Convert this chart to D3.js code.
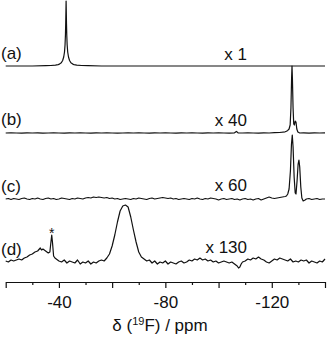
<!DOCTYPE html>
<html><head><meta charset="utf-8">
<script src="https://cdn.jsdelivr.net/npm/d3@7"></script>
<style>
html,body{margin:0;padding:0;background:#fff;}
svg{display:block;font-family:"Liberation Sans",Arial,sans-serif;}
</style></head>
<body>
<svg id="chart" width="327" height="339"></svg>
<script>
// ---- data (ppm, intensity above trace baseline) ----
const traceLabels = ["(a)", "(b)", "(c)", "(d)"];
const scaleLabels = ["x 1", "x 40", "x 60", "x 130"];
const offsets = [216, 149, 83, 20];
const xTicksMajor = [-20, -40, -60, -80, -100, -120, -140];
const xTicksMinor = [-30, -50, -70, -90, -110, -130];
const xTickLabels = [-40, -80, -120];

const traceA = [[-20,0],[-30,0],[-35,0.3],[-37,0.5],[-38.7,0.9],[-39.7,1.4],[-40.2,1.9],[-40.9,3.2],[-41.4,5.5],[-41.8,9],[-42.1,14],[-42.3,21],[-42.45,31],[-42.55,42],[-42.63,54],[-42.7,65],[-42.77,54],[-42.85,42],[-42.95,31],[-43.1,21],[-43.3,14],[-43.6,9],[-44,5.5],[-44.5,3.2],[-45.2,1.9],[-45.7,1.4],[-46.7,0.9],[-48.5,0.5],[-51,0.3],[-56,0],[-140,0]];

const traceB = [[-20,0],[-22,0.2],[-24,0],[-26,-0.2],[-28,0.2],[-30,0],[-32,0.2],[-34,-0.2],[-36,0],[-38,0.2],[-40,0],[-42,-0.2],[-44,0.2],[-46,0],[-48,0.2],[-50,0],[-52,-0.2],[-54,0.2],[-56,0],[-58,0.2],[-60,0],[-62,-0.2],[-64,0],[-66,0.2],[-68,0],[-70,0.2],[-72,0],[-74,-0.2],[-76,0.2],[-78,0],[-80,0.2],[-82,0],[-84,-0.2],[-86,0.2],[-88,0],[-90,0.2],[-92,0],[-94,-0.2],[-96,0.2],[-98,0],[-100,0.2],[-102,0],[-104,-0.2],[-106,0.2],[-106.7,1.6],[-107.3,0.2],[-109,0],[-111,0.2],[-113,0],[-115,-0.2],[-117,0.2],[-119,0],[-121,0.3],[-123,0.5],[-124,0.8],[-125,1.2],[-125.5,1.8],[-126,2.6],[-126.5,4],[-126.9,8],[-127.2,25],[-127.45,55],[-127.6,67],[-127.75,55],[-128,25],[-128.25,9],[-128.5,8],[-128.8,12],[-129.1,11],[-129.4,4],[-129.8,1],[-130.5,0],[-132,0.2],[-134,-0.2],[-136,0.2],[-138,0],[-140,0.2]];

const traceC = [[-20,0],[-21,0.5],[-22,-0.5],[-23,0.5],[-24,0],[-25,-0.5],[-26,0.5],[-27,1],[-28,0],[-29,-0.5],[-30,0.5],[-31,0],[-32,1],[-33,0],[-34,-0.5],[-35,0.5],[-36,1],[-37,0],[-38,0.5],[-39,-0.5],[-40,0],[-41,1],[-42,0.5],[-43,0],[-44,-0.5],[-45,0.5],[-46,0],[-47,1],[-48,0.5],[-49,0],[-50,1],[-51,1.5],[-52,1],[-53,2],[-54,1.5],[-55,2],[-56,1.5],[-57,1],[-58,1.5],[-59,0.5],[-60,1],[-61,0],[-62,0.5],[-63,-0.5],[-64,0],[-65,0.5],[-66,0],[-67,-0.5],[-68,0.5],[-69,0],[-70,1],[-71,0.5],[-72,0],[-73,-0.5],[-74,0.5],[-75,1],[-76,0],[-77,0.5],[-78,1],[-79,1.5],[-80,1],[-81,0.5],[-82,1],[-83,0],[-84,0.5],[-85,-0.5],[-86,0],[-87,0.5],[-88,0],[-89,-0.5],[-90,0.5],[-91,0],[-92,1],[-93,0],[-94,-0.5],[-95,0.5],[-96,0],[-97,1],[-98,0.5],[-99,0],[-100,-1],[-101,0],[-102,0.5],[-103,-0.5],[-104,0],[-105,0.5],[-106,-0.5],[-107,0],[-108,-1],[-109,0],[-110,0.5],[-111,-0.5],[-112,0],[-113,-1],[-114,0],[-115,0.5],[-116,-1],[-117,0],[-118,1],[-119,2],[-120,1],[-121,0.5],[-122,1],[-123,1.5],[-124,2],[-125,2.5],[-125.5,3],[-126,5],[-126.5,10],[-127,28],[-127.4,55],[-127.7,64],[-128,52],[-128.4,22],[-128.8,6],[-129.1,5],[-129.5,18],[-129.9,35],[-130.2,39],[-130.5,32],[-130.9,12],[-131.3,1],[-131.8,-2],[-132.5,-1],[-133,0],[-134,0.5],[-135,-0.5],[-136,0],[-137,0.5],[-138,-0.5],[-139,0],[-140,0]];

const traceD = [[-20,1],[-21,0],[-22,2],[-23,1],[-24,2],[-25,3],[-26,2],[-27,4],[-28,5],[-29,7],[-30,8],[-31,10],[-32,11],[-33,14],[-33.5,12],[-34,13],[-35,11],[-36,9],[-36.6,10],[-37,20],[-37.3,27],[-37.6,19],[-38,6],[-38.5,4],[-39,3],[-40,1],[-41,0],[-42,2],[-43,-1],[-44,1],[-45,0],[-46,-1],[-47,2],[-48,-2],[-49,0],[-50,-1],[-51,1],[-52,-2],[-53,0],[-54,-1],[-55,1],[-56,2],[-57,1],[-58,4],[-59,8],[-60,16],[-61,27],[-62,40],[-63,51],[-64,56],[-65,57],[-66,55],[-67,45],[-68,32],[-69,20],[-70,10],[-71,5],[-72,3],[-73,1],[-74,2],[-75,-1],[-76,1],[-77,-2],[-78,0],[-79,-1],[-80,1],[-81,-2],[-82,0],[-83,-1],[-84,-2],[-85,0],[-86,1],[-87,-1],[-88,0],[-89,2],[-90,1],[-91,3],[-92,2],[-93,4],[-94,2],[-95,3],[-96,1],[-97,2],[-98,0],[-99,1],[-100,-1],[-101,0],[-102,1],[-103,0],[-104,-1],[-105,0],[-106,-2],[-107,-4],[-107.5,-6],[-108,-5],[-108.5,-2],[-109,0],[-110,1],[-111,3],[-112,2],[-113,4],[-114,3],[-115,5],[-116,3],[-117,2],[-118,0],[-119,-1],[-120,1],[-121,3],[-122,2],[-123,4],[-124,3],[-125,2],[-126,1],[-127,3],[-128,0],[-129,1],[-130,0],[-131,2],[-132,1],[-133,2],[-134,-1],[-135,1],[-136,0],[-137,-1],[-138,1],[-139,0],[-140,3]];

const traces = [traceA, traceB, traceC, traceD];
const starPpm = -37.3;

// ---- drawing ----
const svg = d3.select("#chart");
const axisY = 282;
const x = d3.scaleLinear().domain([-20, -140]).range([5.7, 325]);
const y = d3.scaleLinear().domain([0, 282]).range([axisY, 0]);
const ink = "#111";

traces.forEach((tr, i) => {
  svg.append("path")
    .datum(tr)
    .attr("fill", "none")
    .attr("stroke", ink)
    .attr("stroke-width", 1.2)
    .attr("stroke-linejoin", "round")
    .attr("d", d3.line().x(d => x(d[0])).y(d => y(offsets[i] + d[1])));
});

// trace labels
const labelBase = [59, 125, 192, 255];
const scaleBase = [60, 126, 191, 253];
traceLabels.forEach((t, i) => {
  svg.append("text").attr("x", 1).attr("y", labelBase[i])
    .attr("font-size", 17).attr("fill", ink).text(t);
  svg.append("text").attr("x", 247).attr("y", scaleBase[i])
    .attr("text-anchor", "end")
    .attr("font-size", 17).attr("fill", ink).text(scaleLabels[i]);
});

// star marker
svg.append("text").attr("x", x(starPpm)).attr("y", 238)
  .attr("text-anchor", "middle").attr("font-size", 14).attr("fill", ink).text("*");

// axes
const gMinor = svg.append("g").attr("transform", `translate(0,${axisY})`)
  .call(d3.axisBottom(x).tickValues(xTicksMinor).tickSize(3).tickSizeOuter(0).tickFormat(""));
const gMajor = svg.append("g").attr("transform", `translate(0,${axisY})`)
  .call(d3.axisBottom(x).tickValues(xTicksMajor).tickSize(6).tickSizeOuter(0).tickPadding(8)
    .tickFormat(d => xTickLabels.includes(d) ? d3.format("d")(d).replace("−", "-") : ""));
[gMinor, gMajor].forEach(g => {
  g.selectAll("path,line").attr("stroke", ink).attr("stroke-width", 1.2);
  g.selectAll("text").attr("font-size", 17).attr("fill", ink)
    .attr("font-family", '"Liberation Sans",Arial,sans-serif');
});

// axis title
const title = svg.append("text").attr("x", 160).attr("y", 331)
  .attr("text-anchor", "middle").attr("font-size", 17).attr("fill", ink);
title.append("tspan").text("δ (");
title.append("tspan").attr("font-size", 11).attr("dy", -6).text("19");
title.append("tspan").attr("dy", 6).text("F) / ppm");
</script>
</body></html>
